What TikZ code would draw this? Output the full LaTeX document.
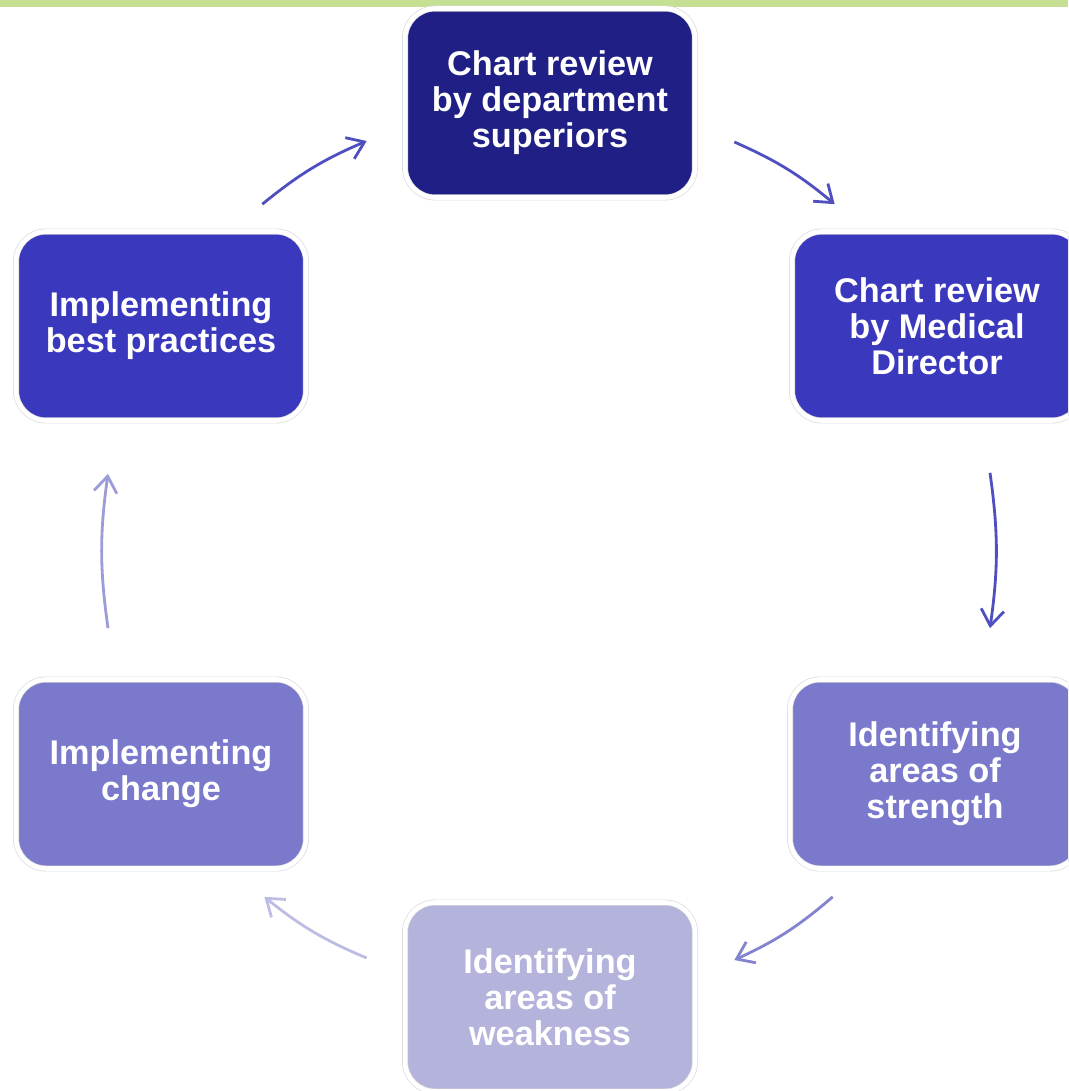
\documentclass[tikz,border=0pt]{standalone}
\usepackage{fontspec}
\setmainfont{Liberation Sans}
\usetikzlibrary{arrows.meta,calc}
\definecolor{barGreen}{HTML}{C5E092}
\definecolor{stepDark}{HTML}{1F1F85}
\definecolor{stepMid}{HTML}{3A38BC}
\definecolor{stepSoft}{HTML}{7A79CC}
\definecolor{stepPale}{HTML}{B3B3DC}
\definecolor{arrDark}{HTML}{4F4FC0}
\definecolor{arrMid}{HTML}{8383CF}
\definecolor{arrSoft}{HTML}{9C9CD8}
\definecolor{arrPale}{HTML}{BDBDE3}

\begin{document}
\begin{tikzpicture}[x=0.02cm, y=-0.02cm,
    stepbox/.style={rounded corners=0.6cm,
        minimum width=5.8cm,
        minimum height=3.78cm,
        draw=black!14, line width=0.4pt,
        double=white, double distance=2.6pt,
        text=white, align=center,
        font=\fontsize{19.5}{20.5}\selectfont\bfseries},
    cyclearrow/.style={line width=1.6pt,
        -{Straight Barb[length=0.32cm, width=0.46cm, line width=1.6pt]}}]
    \useasboundingbox (0,0) rectangle (1068,1091);
    \clip (0,0) rectangle (1068,1091);
    % Top bar
    \fill[barGreen] (0,0) rectangle (1068,7);
    % Steps
    \node [stepbox, fill=stepDark] (Step1) at (550,103)
        {Chart review\\by department\\superiors};
    \node [stepbox, fill=stepMid] (Step2) at (937,326)
        {Chart review\\by Medical\\Director};
    \node [stepbox, fill=stepSoft] (Step3) at (935,774)
        {Identifying\\areas of\\strength};
    \node [stepbox, fill=stepPale] (Step4) at (550,997)
        {Identifying\\areas of\\weakness};
    \node [stepbox, fill=stepSoft] (Step5) at (161,774)
        {Implementing\\change};
    \node [stepbox, fill=stepMid] (Step6) at (161,326)
        {Implementing\\best practices};
    % Arrows round the cycle
    \draw[cyclearrow, arrDark] ([shift={(39,39)}]Step1.east)
        to[bend left=8] ([shift={(43,-27)}]Step2.north west);
    \draw[cyclearrow, arrDark] ([shift={(53,52)}]Step2.south)
        to[bend left=8] ([shift={(55,-51)}]Step3.north);
    \draw[cyclearrow, arrMid] ([shift={(43,28)}]Step3.south west)
        to[bend left=8] ([shift={(39,-37)}]Step4.east);
    \draw[cyclearrow, arrPale] ([shift={(-38,-39)}]Step4.west)
        to[bend left=8] ([shift={(-42,28)}]Step5.south east);
    \draw[cyclearrow, arrSoft] ([shift={(-53,-51)}]Step5.north)
        to[bend left=8] ([shift={(-53,53)}]Step6.south);
    \draw[cyclearrow, arrDark] ([shift={(-44,-27)}]Step6.north east)
        to[bend left=8] ([shift={(-38,38)}]Step1.west);
\end{tikzpicture}
\end{document}
